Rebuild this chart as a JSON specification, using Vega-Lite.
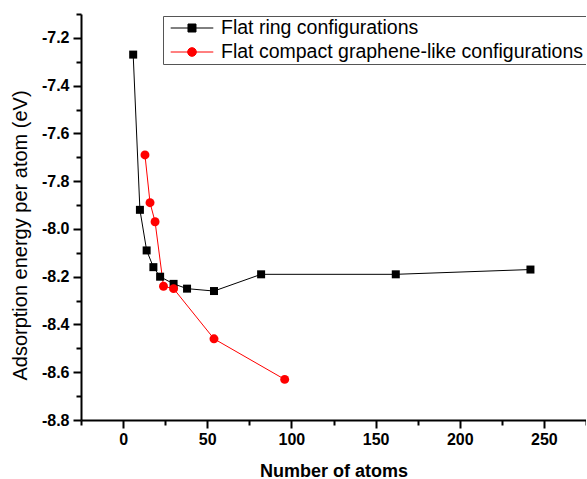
{
  "$schema": "https://vega.github.io/schema/vega-lite/v6.json",
  "width": 505,
  "height": 406,
  "autosize": {"type": "none"},
  "padding": {"left": 81, "top": 14, "right": 0, "bottom": 59},
  "background": "white",
  "config": {
    "view": {"stroke": null},
    "font": "Liberation Sans",
    "axis": {
      "grid": false,
      "domainColor": "black",
      "domainWidth": 2,
      "tickColor": "black",
      "labelColor": "black",
      "titleColor": "black",
      "labelFont": "Liberation Sans",
      "titleFont": "Liberation Sans",
      "labelFontSize": 16,
      "labelFontWeight": "bold"
    }
  },
  "data": {
    "values": [
      {"series": "Flat ring configurations", "n": 6, "e": -7.27},
      {"series": "Flat ring configurations", "n": 10, "e": -7.92},
      {"series": "Flat ring configurations", "n": 14, "e": -8.09},
      {"series": "Flat ring configurations", "n": 18, "e": -8.16},
      {"series": "Flat ring configurations", "n": 22, "e": -8.2},
      {"series": "Flat ring configurations", "n": 30, "e": -8.23},
      {"series": "Flat ring configurations", "n": 38, "e": -8.25},
      {"series": "Flat ring configurations", "n": 54, "e": -8.26},
      {"series": "Flat ring configurations", "n": 82, "e": -8.19},
      {"series": "Flat ring configurations", "n": 162, "e": -8.19},
      {"series": "Flat ring configurations", "n": 242, "e": -8.17},
      {"series": "Flat compact graphene-like configurations", "n": 13, "e": -7.69},
      {"series": "Flat compact graphene-like configurations", "n": 16, "e": -7.89},
      {"series": "Flat compact graphene-like configurations", "n": 19, "e": -7.97},
      {"series": "Flat compact graphene-like configurations", "n": 24, "e": -8.24},
      {"series": "Flat compact graphene-like configurations", "n": 30, "e": -8.25},
      {"series": "Flat compact graphene-like configurations", "n": 54, "e": -8.46},
      {"series": "Flat compact graphene-like configurations", "n": 96, "e": -8.63}
    ]
  },
  "encoding": {
    "x": {
      "field": "n",
      "type": "quantitative",
      "scale": {"domain": [-25, 275], "nice": false, "zero": false},
      "axis": {
        "title": "Number of atoms",
        "titleFontSize": 18,
        "titleFontWeight": "bold",
        "titlePadding": 15,
        "values": [-25, 0, 25, 50, 75, 100, 125, 150, 175, 200, 225, 250, 275],
        "labelExpr": "datum.value % 50 == 0 ? datum.label : ''",
        "labelPadding": 3,
        "labelFlush": false,
        "labelOverlap": false,
        "tickSize": {"condition": {"test": "datum.value % 50 == 0", "value": 8}, "value": 5},
        "tickWidth": 2
      }
    },
    "y": {
      "field": "e",
      "type": "quantitative",
      "scale": {"domain": [-8.8, -7.1], "nice": false, "zero": false},
      "axis": {
        "title": "Adsorption energy per atom (eV)",
        "titleFontSize": 20,
        "titleFontWeight": "normal",
        "titleX": -51,
        "titleY": 221,
        "values": [-8.8, -8.7, -8.6, -8.5, -8.4, -8.3, -8.2, -8.1, -8.0, -7.9, -7.8, -7.7, -7.6, -7.5, -7.4, -7.3, -7.2, -7.1],
        "format": ".1f",
        "labelExpr": "abs(round(datum.value * 10)) % 2 == 0 ? replace(datum.label, '\u2212', '-') : ''",
        "labelPadding": 4,
        "labelFlush": false,
        "labelOverlap": false,
        "tickSize": {"condition": {"test": "abs(round(datum.value * 10)) % 2 == 0", "value": 8}, "value": 5},
        "tickWidth": 2
      }
    }
  },
  "layer": [
    {
      "mark": {"type": "line", "strokeWidth": 1, "clip": false},
      "encoding": {
        "order": {"field": "n", "type": "quantitative"},
        "color": {
          "field": "series",
          "type": "nominal",
          "scale": {
            "domain": ["Flat ring configurations", "Flat compact graphene-like configurations"],
            "range": ["black", "red"]
          },
          "legend": {
            "title": null,
            "orient": "none",
            "legendX": 82,
            "legendY": 2,
            "padding": 2,
            "strokeColor": "#555555",
            "fillColor": "white",
            "labelFont": "Liberation Sans",
            "labelFontSize": 19.5,
            "labelColor": "black",
            "labelOffset": 36,
            "labelLimit": 600,
            "rowPadding": 4,
            "symbolSize": 361,
            "symbolStrokeWidth": 1,
            "encode": {
              "symbols": {
                "update": {
                  "shape": {"signal": "datum.value == 'Flat ring configurations' ? 'M-0.453,0H4.032M1.368,-0.421H2.21V0.421H1.368Z' : 'M-0.453,0H4.032M2.247,0A0.458,0.458 0 1 1 1.331,0A0.458,0.458 0 1 1 2.247,0Z'"},
                  "size": {"value": 361},
                  "fill": {"signal": "datum.value == 'Flat ring configurations' ? 'black' : 'red'"},
                  "stroke": {"signal": "datum.value == 'Flat ring configurations' ? 'black' : 'red'"},
                  "strokeWidth": {"value": 1}
                }
              }
            }
          }
        }
      }
    },
    {
      "mark": {"type": "point", "filled": true, "opacity": 1, "clip": false},
      "encoding": {
        "color": {
          "field": "series",
          "type": "nominal",
          "scale": {
            "domain": ["Flat ring configurations", "Flat compact graphene-like configurations"],
            "range": ["black", "red"]
          },
          "legend": null
        },
        "shape": {
          "field": "series",
          "type": "nominal",
          "scale": {
            "domain": ["Flat ring configurations", "Flat compact graphene-like configurations"],
            "range": ["square", "circle"]
          },
          "legend": null
        },
        "size": {
          "field": "series",
          "type": "nominal",
          "scale": {
            "domain": ["Flat ring configurations", "Flat compact graphene-like configurations"],
            "range": [64, 80]
          },
          "legend": null
        }
      }
    }
  ],
  "resolve": {"legend": {"color": "independent"}}
}
